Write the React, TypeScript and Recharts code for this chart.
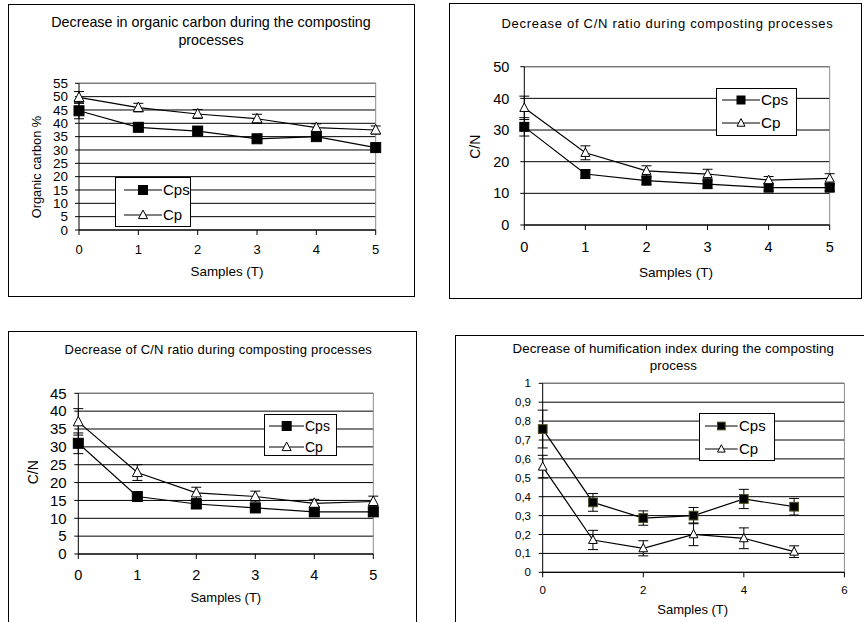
import React from 'react'
import {
  LineChart, Line, XAxis, YAxis, CartesianGrid, ErrorBar, Legend, ReferenceLine,
} from 'recharts'

const FONT = '"Liberation Sans", Arial, Helvetica, sans-serif'

// ─── Data ────────────────────────────────────────────────────────────────────
const samples = [0, 1, 2, 3, 4, 5]

// organic carbon %
const carbonCps = [44.7, 38.5, 37.1, 34.2, 35, 30.9]
const carbonCpsErr = [3, 1, 1, 1, 1, 1]
const carbonCp = [49.7, 45.9, 43.5, 41.7, 38.4, 37.5]
const carbonCpErr = [2.2, 1.6, 1.7, 1.7, 1.4, 1.5]
const carbonTicks = [0, 5, 10, 15, 20, 25, 30, 35, 40, 45, 50, 55]

// C/N ratio
const cnCps = [31, 16.1, 14, 12.9, 11.8, 11.8]
const cnCpsErr = [2.9, 1.4, 1.2, 1.2, 1.1, 1.1]
const cnCp = [37, 22.8, 17.1, 16.1, 14.2, 14.7]
const cnCpErr = [3.7, 2.2, 1.6, 1.5, 1.1, 1.5]
const cnTicksWide = [0, 10, 20, 30, 40, 50]
const cnTicksFine = [0, 5, 10, 15, 20, 25, 30, 35, 40, 45]

// humification index
const humCps = [0.758, 0.37, 0.287, 0.3, 0.388, 0.347]
const humCpsErr = [0.1, 0.047, 0.038, 0.043, 0.051, 0.044]
const humCp = [0.559, 0.171, 0.127, 0.201, 0.18, 0.109]
const humCpErr = [0.06, 0.051, 0.04, 0.06, 0.055, 0.031]
const humTicks = [0, 0.1, 0.2, 0.3, 0.4, 0.5, 0.6, 0.7, 0.8, 0.9, 1]

const sampleTicks = [0, 1, 2, 3, 4, 5]
const sampleTicksEven = [0, 2, 4, 6]

const seriesNames = ['Cps', 'Cp']

function buildRows(cps: number[], cpsErr: number[], cp: number[], cpErr: number[]) {
  return samples.map((t, i) => ({ t, cps: cps[i], cpsErr: cpsErr[i], cp: cp[i], cpErr: cpErr[i] }))
}

// ─── Markers ─────────────────────────────────────────────────────────────────
function Square({ cx, cy, size, edge }: any) {
  if (cx == null || cy == null) return null
  return <rect x={cx - size / 2} y={cy - size / 2} width={size} height={size} fill="#000" stroke={edge} strokeWidth={1} />
}

function Triangle({ cx, cy, size }: any) {
  if (cx == null || cy == null) return null
  const h = size * 0.5
  const pts = `${cx},${cy - h * 1.1} ${cx - h},${cy + h * 0.8} ${cx + h},${cy + h * 0.8}`
  return <polygon points={pts} fill="#fff" stroke="#000" strokeWidth={1} />
}

// axis title drawn at a fixed spot; prop names kept apart from what recharts injects
function AxisText({ px, py, fsize, turn, txt }: any) {
  return (
    <g transform={`translate(${px} ${py}) rotate(${turn || 0})`}>
      <text x={0} y={0} textAnchor="middle" dominantBaseline="central" fontSize={fsize} fill="#000" fontFamily={FONT}>
        {txt}
      </text>
    </g>
  )
}

// ─── Panel ───────────────────────────────────────────────────────────────────
interface PanelCfg {
  box: number[]          // left, top, width, height (page px)
  plot: number[]         // left, top, right, bottom (page px)
  title: string[]
  titleX: number
  titleY: number[]
  titleSize: number
  titleSpacing: number
  rows: any[]
  yTicks: number[]
  xTicks: number[]
  xMax: number
  yTickSize: number
  yGap: number
  xTickSize: number
  xGap: number
  yLabel?: string
  yLabelPos?: number[]
  yLabelSize?: number
  xLabelPos: number[]
  xLabelSize: number
  legend: number[]       // left, top, width, height
  legendRows: number[]
  legendLine: number[]
  legendSize: number
  marker: number
  squareEdge: string
  comma?: boolean
}

function Panel(c: PanelCfg) {
  const [L, T, W, H] = c.box
  const [pl, pt, pr, pb] = c.plot
  const yMax = c.yTicks[c.yTicks.length - 1]
  const [lx, ly, lw, lh] = c.legend
  const lineW = c.legendLine[1] - c.legendLine[0]

  const legendContent = () => (
    <div style={{ position: 'relative', width: lw, height: lh, border: '1px solid #000', boxSizing: 'border-box', background: '#fff', fontFamily: FONT }}>
      {seriesNames.map((name, i) => (
        <div
          key={name}
          style={{ position: 'absolute', left: c.legendLine[0] - lx - 1, top: c.legendRows[i] - ly - 1 - 9, height: 18, display: 'flex', alignItems: 'center' }}
        >
          <svg width={lineW} height={18} style={{ display: 'block' }}>
            <line x1={0} y1={9} x2={lineW} y2={9} stroke="#000" strokeWidth={1.2} />
            {i === 0
              ? <Square cx={lineW / 2} cy={9} size={c.marker - 1} edge={c.squareEdge} />
              : <Triangle cx={lineW / 2} cy={9} size={c.marker - 1} />}
          </svg>
          <span style={{ fontSize: c.legendSize, lineHeight: '18px', marginLeft: 1, color: '#000' }}>{name}</span>
        </div>
      ))}
    </div>
  )

  return (
    <div style={{ position: 'absolute', left: L, top: T, width: W, height: H }}>
      <LineChart
        width={W} height={H} data={c.rows}
        margin={{ top: pt - T, right: L + W - pr, bottom: 0, left: 0 }}
      >
        <CartesianGrid vertical={false} stroke="#000" strokeWidth={1} />
        <XAxis
          dataKey="t" type="number" domain={[0, c.xMax]} ticks={c.xTicks} interval={0}
          height={T + H - pb} stroke="#000" tickSize={5} tickMargin={c.xGap - 5}
          tick={{ fontSize: c.xTickSize, fill: '#000', fontFamily: FONT }}
          label={<AxisText px={c.xLabelPos[0] - L} py={c.xLabelPos[1] - T} fsize={c.xLabelSize} txt="Samples (T)" />}
        />
        <YAxis
          type="number" domain={[0, yMax]} ticks={c.yTicks} interval={0}
          width={pl - L} stroke="#000" tickSize={4} tickMargin={c.yGap - 4}
          tick={{ fontSize: c.yTickSize, fill: '#000', fontFamily: FONT }}
          tickFormatter={v => c.comma ? String(v).replace('.', ',') : String(v)}
          label={c.yLabel
            ? <AxisText px={c.yLabelPos![0] - L} py={c.yLabelPos![1] - T} fsize={c.yLabelSize} turn={-90} txt={c.yLabel} />
            : undefined}
        />
        <ReferenceLine y={yMax} stroke="#8c8c8c" strokeWidth={1} />
        <ReferenceLine x={c.xMax} stroke="#8c8c8c" strokeWidth={1} />
        <Legend
          layout="vertical" align="center" verticalAlign="middle"
          content={legendContent}
          wrapperStyle={{ left: lx - L, top: ly - T, width: lw, height: lh, margin: 0, padding: 0 }}
        />
        <Line
          dataKey="cps" name="Cps" stroke="#000" strokeWidth={1.2} isAnimationActive={false} activeDot={false}
          dot={(d: any) => <Square key={`s${d.index}`} cx={d.cx} cy={d.cy} size={c.marker} edge={c.squareEdge} />}
        >
          <ErrorBar dataKey="cpsErr" width={5} stroke="#000" strokeWidth={1} direction="y" isAnimationActive={false} />
        </Line>
        <Line
          dataKey="cp" name="Cp" stroke="#000" strokeWidth={1.2} isAnimationActive={false} activeDot={false}
          dot={(d: any) => <Triangle key={`t${d.index}`} cx={d.cx} cy={d.cy} size={c.marker} />}
        >
          <ErrorBar dataKey="cpErr" width={5} stroke="#000" strokeWidth={1} direction="y" isAnimationActive={false} />
        </Line>
      </LineChart>
      <div style={{ position: 'absolute', left: 0, top: 0, width: W, height: H, border: '1px solid #000', boxSizing: 'border-box', pointerEvents: 'none' }} />
      {c.title.map((line, i) => (
        <div
          key={i}
          style={{
            position: 'absolute', left: c.titleX - L - 300, width: 600, top: c.titleY[i] - T - 10,
            height: 20, lineHeight: '20px', textAlign: 'center', fontFamily: FONT,
            fontSize: c.titleSize, letterSpacing: c.titleSpacing, color: '#000', whiteSpace: 'nowrap',
          }}
        >
          {line}
        </div>
      ))}
    </div>
  )
}

// ─── Layouts ─────────────────────────────────────────────────────────────────
const panels: PanelCfg[] = [
  {
    box: [8, 4, 407, 293], plot: [79, 83.3, 375.7, 230],
    title: ['Decrease in organic carbon during the composting', 'processes'],
    titleX: 211, titleY: [21.7, 40], titleSize: 14.3, titleSpacing: 0,
    rows: buildRows(carbonCps, carbonCpsErr, carbonCp, carbonCpErr),
    yTicks: carbonTicks, xTicks: sampleTicks, xMax: 5,
    yTickSize: 13.5, yGap: 11, xTickSize: 13, xGap: 15,
    yLabel: 'Organic carbon %', yLabelPos: [36.7, 167], yLabelSize: 12.8,
    xLabelPos: [227, 271], xLabelSize: 13.4,
    legend: [115, 177, 76, 50], legendRows: [190, 215], legendLine: [124, 162], legendSize: 15,
    marker: 10, squareEdge: '#000',
  },
  {
    box: [449, 3, 413, 296], plot: [524.3, 66.7, 829.7, 225],
    title: ['Decrease of C/N ratio during composting processes'],
    titleX: 667.5, titleY: [24], titleSize: 13, titleSpacing: 0.7,
    rows: buildRows(cnCps, cnCpsErr, cnCp, cnCpErr),
    yTicks: cnTicksWide, xTicks: sampleTicks, xMax: 5,
    yTickSize: 14.5, yGap: 15, xTickSize: 14.5, xGap: 16.7,
    yLabel: 'C/N', yLabelPos: [475.3, 146.7], yLabelSize: 14,
    xLabelPos: [676, 272.7], xLabelSize: 13.6,
    legend: [716, 87.7, 81, 48.3], legendRows: [100, 123.3], legendLine: [722, 760], legendSize: 15.3,
    marker: 9, squareEdge: '#000',
  },
  {
    box: [8, 331, 409, 300], plot: [78.3, 393.3, 373.3, 554],
    title: ['Decrease of C/N ratio during composting processes'],
    titleX: 218.3, titleY: [350], titleSize: 13, titleSpacing: 0.2,
    rows: buildRows(cnCps, cnCpsErr, cnCp, cnCpErr),
    yTicks: cnTicksFine, xTicks: sampleTicks, xMax: 5,
    yTickSize: 15, yGap: 11.6, xTickSize: 14.5, xGap: 15.3,
    yLabel: 'C/N', yLabelPos: [33.3, 472.3], yLabelSize: 14,
    xLabelPos: [225.8, 597.3], xLabelSize: 13,
    legend: [264, 414.3, 73.3, 41.7], legendRows: [426, 446.7], legendLine: [268.7, 304], legendSize: 14,
    marker: 10, squareEdge: '#000',
  },
  {
    box: [455.3, 335, 420, 300], plot: [543, 383.3, 844.7, 572.3],
    title: ['Decrease of humification index during the composting', 'process'],
    titleX: 673.3, titleY: [349.3, 366], titleSize: 13.3, titleSpacing: 0.1,
    rows: buildRows(humCps, humCpsErr, humCp, humCpErr),
    yTicks: humTicks, xTicks: sampleTicksEven, xMax: 6,
    yTickSize: 11.5, yGap: 11.7, xTickSize: 11.5, xGap: 13.7,
    xLabelPos: [693, 609], xLabelSize: 13,
    legend: [699.3, 413.3, 75.4, 47.7], legendRows: [425.7, 449], legendLine: [705.3, 738], legendSize: 15,
    marker: 8.7, squareEdge: '#4a4a1a', comma: true,
  },
]

export default function App() {
  return (
    <div style={{ position: 'absolute', left: 0, top: 0, width: 864, height: 622, overflow: 'hidden', background: '#fff' }}>
      {panels.map((p, i) => <Panel key={i} {...p} />)}
    </div>
  )
}
